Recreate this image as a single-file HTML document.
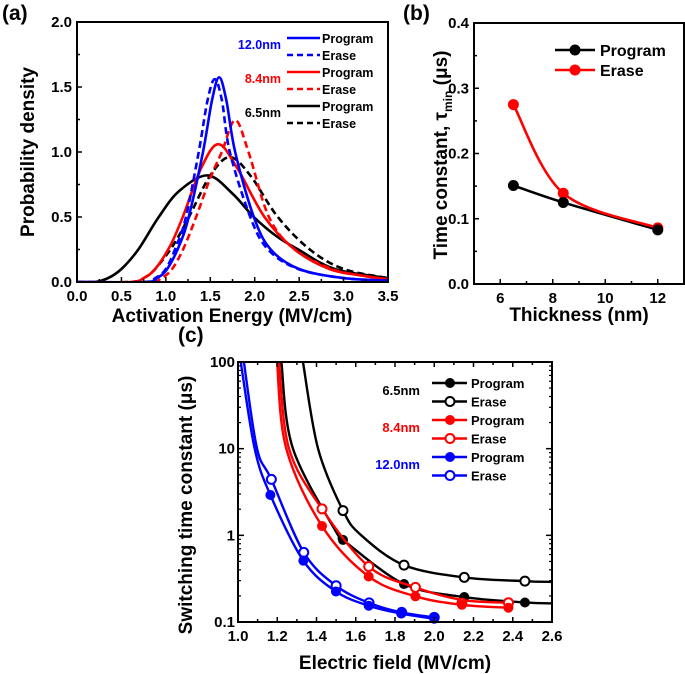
<!DOCTYPE html>
<html><head><meta charset="utf-8"><style>
body{margin:0;background:#fff;}
svg{display:block;font-family:"Liberation Sans",Arial,sans-serif;font-weight:bold;}
</style></head><body>
<svg id="fig" width="685" height="674" viewBox="0 0 685 674" xmlns="http://www.w3.org/2000/svg"></svg>
<script>
// ---------- Panel (a) data ----------
const aBlueProgX=[0,0.77,0.9,1.015,1.15,1.257,1.418,1.52,1.60,1.68,1.78,1.99,2.18,2.5,3.0,3.5];
const aBlueProgY=[0,0,0.03,0.1,0.28,0.5,1.0,1.4,1.575,1.4,1.0,0.5,0.25,0.1,0.03,0.01];
const aBlueEraseX=[0,0.75,0.88,1.0,1.12,1.226,1.37,1.47,1.55,1.63,1.72,1.95,2.15,2.49,3.0,3.5];
const aBlueEraseY=[0,0,0.03,0.1,0.28,0.5,1.0,1.4,1.56,1.4,1.0,0.5,0.25,0.1,0.03,0.01];
const aRedProgX=[0,0.6,0.75,0.88,1.05,1.19,1.4,1.59,1.8,2.11,2.45,2.84,3.2,3.5];
const aRedProgY=[0,0,0.03,0.1,0.28,0.5,0.88,1.06,0.88,0.5,0.25,0.1,0.05,0.02];
const aRedEraseX=[0,0.8,0.95,1.07,1.2,1.34,1.5,1.63,1.78,1.93,2.16,2.45,2.87,3.2,3.5];
const aRedEraseY=[0,0,0.03,0.1,0.26,0.5,0.8,1.0,1.245,1.0,0.5,0.25,0.1,0.05,0.02];
const aBlackProgX=[0,0.2,0.35,0.5,0.69,0.92,1.15,1.47,1.75,1.99,2.25,2.49,2.9,3.5];
const aBlackProgY=[0,0,0.03,0.1,0.25,0.5,0.7,0.82,0.68,0.5,0.35,0.25,0.1,0.03];
const aBlackEraseX=[0,0.6,0.75,0.88,1.08,1.26,1.5,1.72,1.95,2.26,2.62,3.0,3.5];
const aBlackEraseY=[0,0,0.03,0.1,0.28,0.5,0.82,0.96,0.82,0.5,0.25,0.1,0.03];
const aXTicks=["0.0","0.5","1.0","1.5","2.0","2.5","3.0","3.5"];
const aYTicks=["0.0","0.5","1.0","1.5","2.0"];
// ---------- Panel (b) data ----------
const bThick=[6.5,8.4,12];
const bProgram=[0.151,0.125,0.083];
const bErase=[0.275,0.139,0.086];
const bXTicks=["6","8","10","12"];
const bYTicks=["0.0","0.1","0.2","0.3","0.4"];
// ---------- Panel (c) data ----------
const cBlackProgX=[1.221,1.28,1.51,1.535,1.846,2.153,2.462,2.6];
const cBlackProgY=[100,10,1,0.885,0.274,0.194,0.168,0.164];
const cBlackEraseX=[1.331,1.408,1.535,1.628,1.846,2.153,2.462,2.6];
const cBlackEraseY=[100,10,1.93,1,0.453,0.327,0.296,0.29];
const cRedProgX=[1.199,1.246,1.428,1.666,1.904,2.141,2.378];
const cRedProgY=[100,10,1.28,0.335,0.198,0.158,0.146];
const cRedEraseX=[1.209,1.26,1.428,1.666,1.904,2.141,2.378];
const cRedEraseY=[100,10,2.02,0.437,0.251,0.18,0.167];
const cBlueProgX=[1.014,1.085,1.165,1.333,1.499,1.666,1.832,2.0];
const cBlueProgY=[100,10,2.92,0.51,0.225,0.154,0.125,0.109];
const cBlueEraseX=[1.03,1.097,1.17,1.335,1.50,1.668,1.834,2.0];
const cBlueEraseY=[100,10,4.42,0.635,0.262,0.166,0.129,0.113];
// marker points (c)
const cBlackProgMX=[1.535,1.846,2.153,2.462], cBlackProgMY=[0.885,0.274,0.194,0.168];
const cBlackEraseMX=[1.535,1.846,2.153,2.462], cBlackEraseMY=[1.93,0.453,0.327,0.296];
const cRedProgMX=[1.428,1.666,1.904,2.141,2.378], cRedProgMY=[1.28,0.335,0.198,0.158,0.146];
const cRedEraseMX=[1.428,1.666,1.904,2.141,2.378], cRedEraseMY=[2.02,0.437,0.251,0.165,0.167];
const cBlueProgMX=[1.165,1.333,1.499,1.666,1.832,2.0], cBlueProgMY=[2.92,0.51,0.225,0.154,0.125,0.109];
const cBlueEraseMX=[1.17,1.335,1.50,1.668,1.834,2.0], cBlueEraseMY=[4.42,0.635,0.262,0.166,0.129,0.113];
const cXTicks=["1.0","1.2","1.4","1.6","1.8","2.0","2.2","2.4","2.6"];
const cYTicks=["0.1","1","10","100"];

const NS="http://www.w3.org/2000/svg";
const svg=document.getElementById('fig');
function el(tag,attrs,parent,text){const e=document.createElementNS(NS,tag);for(const k in attrs)e.setAttribute(k,attrs[k]);if(text!==undefined)e.textContent=text;(parent||svg).appendChild(e);return e;}

// centripetal Catmull-Rom through pixel points
function curvePath(xs,ys,sx,sy){
  const P=xs.map((x,i)=>[sx(x),sy(ys[i])]);
  let d="M"+P[0][0].toFixed(2)+","+P[0][1].toFixed(2);
  for(let i=0;i<P.length-1;i++){
    const p0=P[i-1]||P[i],p1=P[i],p2=P[i+1],p3=P[i+2]||P[i+1];
    const t=1/6;
    const c1=[p1[0]+(p2[0]-p0[0])*t,p1[1]+(p2[1]-p0[1])*t];
    const c2=[p2[0]-(p3[0]-p1[0])*t,p2[1]-(p3[1]-p1[1])*t];
    d+="C"+c1[0].toFixed(2)+","+c1[1].toFixed(2)+" "+c2[0].toFixed(2)+","+c2[1].toFixed(2)+" "+p2[0].toFixed(2)+","+p2[1].toFixed(2);
  }
  return d;
}

// ========== Panel (a) ==========
const aL=77,aR=388,aT=22,aB=282;
const ax=v=>aL+(v-0)/3.5*(aR-aL), ay=v=>aB-(v/2.0)*(aB-aT);
const gA=el('g',{});
const clipA=el('clipPath',{id:'clipA'});el('rect',{x:aL,y:aT,width:aR-aL,height:aB-aT},clipA);
const aSeries=[[aBlackProgX,aBlackProgY,'#000',''], [aBlackEraseX,aBlackEraseY,'#000','7,4'],
 [aRedProgX,aRedProgY,'#f00',''],[aRedEraseX,aRedEraseY,'#f00','7,4'],
 [aBlueProgX,aBlueProgY,'#00f',''],[aBlueEraseX,aBlueEraseY,'#00f','7,4']];
const aNames=['curve-6.5nm-program','curve-6.5nm-erase','curve-8.4nm-program','curve-8.4nm-erase','curve-12nm-program','curve-12nm-erase'];
aSeries.forEach((s,i)=>{const p=el('path',{d:curvePath(s[0],s[1],ax,ay),fill:'none',stroke:s[2],'stroke-width':2.6,'stroke-dasharray':s[3],'clip-path':'url(#clipA)'},gA);
 });
el('rect',{x:aL,y:aT,width:aR-aL,height:aB-aT,fill:'none',stroke:'#000','stroke-width':2},gA);
aXTicks.forEach((t,i)=>{const v=parseFloat(t),x=ax(v);el('line',{x1:x,y1:aB,x2:x,y2:aB-5,stroke:'#000','stroke-width':1.5},gA);
 if(i<aXTicks.length-1){const xm=ax(v+0.25);el('line',{x1:xm,y1:aB,x2:xm,y2:aB-3,stroke:'#000','stroke-width':1.5},gA);}
 const tx=el('text',{x:x,y:aB+19,'font-size':15,'text-anchor':'middle'},gA,t);});
aYTicks.forEach((t,i)=>{const v=parseFloat(t),y=ay(v);el('line',{x1:aL,y1:y,x2:aL+5,y2:y,stroke:'#000','stroke-width':1.5},gA);
 if(i<aYTicks.length-1){const ym=ay(v+0.25);el('line',{x1:aL,y1:ym,x2:aL+3,y2:ym,stroke:'#000','stroke-width':1.5},gA);}
 const tx=el('text',{x:aL-5,y:y+5,'font-size':15,'text-anchor':'end'},gA,t);});
let t;
t=el('text',{x:232,y:322,'font-size':19,'text-anchor':'middle'},gA,'Activation Energy (MV/cm)');
t=el('text',{x:0,y:0,'font-size':19,'text-anchor':'middle',transform:'translate(34,152) rotate(-90)'},gA,'Probability density');
t=el('text',{x:2,y:20,'font-size':21},gA,'(a)');
const aLeg=[['12.0nm','#00f',38,55],['8.4nm','#f00',72,89],['6.5nm','#000',106,123]];
const gLa=el('g',{},gA);
aLeg.forEach(L=>{
 el('text',{x:281,y:L[2]+11,'font-size':12.5,'text-anchor':'end',fill:L[1]},gLa,L[0]);
 el('line',{x1:287,y1:L[2],x2:320,y2:L[2],stroke:L[1],'stroke-width':2.6},gLa);
 el('text',{x:322,y:L[2]+5,'font-size':12.5},gLa,'Program');
 el('line',{x1:287,y1:L[3],x2:320,y2:L[3],stroke:L[1],'stroke-width':2.6,'stroke-dasharray':'6,4'},gLa);
 el('text',{x:322,y:L[3]+5,'font-size':12.5},gLa,'Erase');
});

// ========== Panel (b) ==========
const bL=474,bR=684,bT=23,bB=284;
const bx=v=>bL+(v-5)/8*(bR-bL), by=v=>bB-(v/0.4)*(bB-bT);
const gB=el('g',{});
let pb=el('path',{d:curvePath(bThick,bProgram,bx,by),fill:'none',stroke:'#000','stroke-width':2.6},gB);

pb=el('path',{d:curvePath(bThick,bErase,bx,by),fill:'none',stroke:'#f00','stroke-width':2.6},gB);

bThick.forEach((v,i)=>{
 const c1=el('circle',{cx:bx(v),cy:by(bErase[i]),r:5.5,fill:'#f00'},gB);
 const c2=el('circle',{cx:bx(v),cy:by(bProgram[i]),r:5.5,fill:'#000'},gB);
});
el('rect',{x:bL,y:bT,width:bR-bL,height:bB-bT,fill:'none',stroke:'#000','stroke-width':2},gB);
bXTicks.forEach(s=>{const v=parseFloat(s),x=bx(v);el('line',{x1:x,y1:bB,x2:x,y2:bB-5,stroke:'#000','stroke-width':1.5},gB);
 const xm=bx(v+1);el('line',{x1:xm,y1:bB,x2:xm,y2:bB-3,stroke:'#000','stroke-width':1.5},gB);
 const tx=el('text',{x:x,y:bB+19,'font-size':15,'text-anchor':'middle'},gB,s);});
bYTicks.forEach((s,i)=>{const v=parseFloat(s),y=by(v);el('line',{x1:bL,y1:y,x2:bL+5,y2:y,stroke:'#000','stroke-width':1.5},gB);
 if(i<bYTicks.length-1){const ym=by(v+0.05);el('line',{x1:bL,y1:ym,x2:bL+3,y2:ym,stroke:'#000','stroke-width':1.5},gB);}
 const tx=el('text',{x:bL-5,y:y+5,'font-size':15,'text-anchor':'end'},gB,s);});
t=el('text',{x:579,y:321,'font-size':19,'text-anchor':'middle'},gB,'Thickness (nm)');
t=el('text',{x:0,y:0,'font-size':19,'text-anchor':'middle',transform:'translate(447,155) rotate(-90)'},gB);

el('tspan',{},t,'Time constant, τ');el('tspan',{'font-size':12,dy:5},t,'min');el('tspan',{dy:-5},t,' (μs)');
t=el('text',{x:403,y:20,'font-size':21},gB,'(b)');
const gLb=el('g',{},gB);
el('line',{x1:555,y1:50,x2:595,y2:50,stroke:'#000','stroke-width':2.6},gLb);el('circle',{cx:575,cy:50,r:5.5,fill:'#000'},gLb);
el('text',{x:600,y:56,'font-size':16},gLb,'Program');
el('line',{x1:555,y1:70,x2:595,y2:70,stroke:'#f00','stroke-width':2.6},gLb);el('circle',{cx:575,cy:70,r:5.5,fill:'#f00'},gLb);
el('text',{x:600,y:76,'font-size':16},gLb,'Erase');

// ========== Panel (c) ==========
const cL=238,cR=552,cT=362,cB=622;
const cx=v=>cL+(v-1.0)/1.6*(cR-cL), cy=v=>cB-(Math.log10(v)+1)/3*(cB-cT);
const gC=el('g',{});
const clipC=el('clipPath',{id:'clipC'});el('rect',{x:cL,y:cT,width:cR-cL,height:cB-cT},clipC);
const cSeries=[[cBlackEraseX,cBlackEraseY,cBlackEraseMX,cBlackEraseMY,'#000',false,'6.5nm-erase'],
 [cBlackProgX,cBlackProgY,cBlackProgMX,cBlackProgMY,'#000',true,'6.5nm-program'],
 [cRedEraseX,cRedEraseY,cRedEraseMX,cRedEraseMY,'#f00',false,'8.4nm-erase'],
 [cRedProgX,cRedProgY,cRedProgMX,cRedProgMY,'#f00',true,'8.4nm-program'],
 [cBlueEraseX,cBlueEraseY,cBlueEraseMX,cBlueEraseMY,'#00f',false,'12nm-erase'],
 [cBlueProgX,cBlueProgY,cBlueProgMX,cBlueProgMY,'#00f',true,'12nm-program']];
cSeries.forEach(s=>{
 const p=el('path',{d:curvePath(s[0],s[1],cx,cy),fill:'none',stroke:s[4],'stroke-width':2.4,'clip-path':'url(#clipC)'},gC);
 
 s[2].forEach((x,i)=>{const c=el('circle',{cx:cx(x),cy:cy(s[3][i]),r:s[5]?5:4.5,fill:s[5]?s[4]:'#fff',stroke:s[4],'stroke-width':s[5]?0:2},gC);
  });
});
el('rect',{x:cL,y:cT,width:cR-cL,height:cB-cT,fill:'none',stroke:'#000','stroke-width':2},gC);
cXTicks.forEach((s,i)=>{const v=parseFloat(s),x=cx(v);el('line',{x1:x,y1:cB,x2:x,y2:cB-5,stroke:'#000','stroke-width':1.5},gC);el('line',{x1:x,y1:cT,x2:x,y2:cT+5,stroke:'#000','stroke-width':1.5},gC);
 if(i<cXTicks.length-1){const xm=cx(v+0.1);el('line',{x1:xm,y1:cB,x2:xm,y2:cB-3,stroke:'#000','stroke-width':1.5},gC);el('line',{x1:xm,y1:cT,x2:xm,y2:cT+3,stroke:'#000','stroke-width':1.5},gC);}
 const tx=el('text',{x:x,y:cB+19,'font-size':15,'text-anchor':'middle'},gC,s);});
cYTicks.forEach((s,i)=>{const v=parseFloat(s),y=cy(v);
 [[cL,cL+6],[cR,cR-6]].forEach(a=>el('line',{x1:a[0],y1:y,x2:a[1],y2:y,stroke:'#000','stroke-width':1.5},gC));
 if(i<cYTicks.length-1){for(let k=2;k<10;k++){const ym=cy(v*k);[[cL,cL+3],[cR,cR-3]].forEach(a=>el('line',{x1:a[0],y1:ym,x2:a[1],y2:ym,stroke:'#000','stroke-width':1.2},gC));}}
 const tx=el('text',{x:cL-3,y:y+5,'font-size':15,'text-anchor':'end'},gC,s);});
t=el('text',{x:395,y:669,'font-size':19,'text-anchor':'middle'},gC,'Electric field (MV/cm)');
t=el('text',{x:0,y:0,'font-size':19,'text-anchor':'middle',transform:'translate(192,505) rotate(-90)'},gC,'Switching time constant (μs)');
t=el('text',{x:178,y:342,'font-size':21},gC,'(c)');
const gLc=el('g',{},gC);
const cLeg=[['6.5nm','#000',383],['8.4nm','#f00',420],['12.0nm','#00f',457]];
cLeg.forEach((L,j)=>{
 el('text',{x:420,y:L[2]+12,'font-size':13,'text-anchor':'end',fill:L[1]},gLc,L[0]);
 const y1=L[2],y2=L[2]+18.5;
 el('line',{x1:432,y1:y1,x2:467,y2:y1,stroke:L[1],'stroke-width':2.4},gLc);el('circle',{cx:450,cy:y1,r:5,fill:L[1]},gLc);
 el('text',{x:471,y:y1+5,'font-size':13},gLc,'Program');
 el('line',{x1:432,y1:y2,x2:467,y2:y2,stroke:L[1],'stroke-width':2.4},gLc);el('circle',{cx:450,cy:y2,r:4.5,fill:'#fff',stroke:L[1],'stroke-width':2},gLc);
 el('text',{x:471,y:y2+5,'font-size':13},gLc,'Erase');
});
</script>
</body></html>
